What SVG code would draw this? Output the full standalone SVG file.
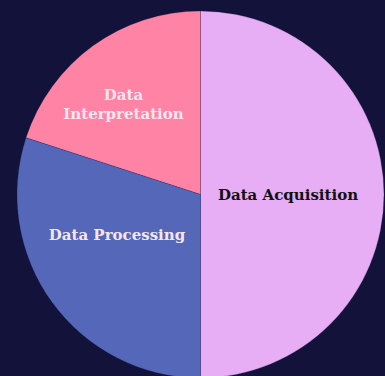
<svg xmlns="http://www.w3.org/2000/svg" width="385" height="376" viewBox="0 0 385 376">
  <style>
    .slice { stroke: #12123a; stroke-opacity: 0.2; stroke-width: 1; }
    .lbl { font-family: "DejaVu Serif", "Liberation Serif", serif; font-weight: bold; font-size: 15px; text-anchor: middle; }
    .light { fill: #f7e6f0; }
    .dark { fill: #111111; }
  </style>
  <rect width="385" height="376" fill="#12123a"/>
  <g id="slice-acquisition">
    <path class="slice" fill="#e7adf5" d="M200.5,194.5 L200.5,11 A183.5,183.5 0 0 1 200.5,378 Z"/>
    <text class="lbl dark" x="288" y="199.5">Data Acquisition</text>
  </g>
  <g id="slice-interpretation">
    <path class="slice" fill="#ff83a5" d="M200.5,194.5 L200.5,11 A183.5,183.5 0 0 0 26,137.8 Z"/>
    <text class="lbl light" x="123.5" y="99.5">Data</text>
    <text class="lbl light" x="123.5" y="118.5">Interpretation</text>
  </g>
  <g id="slice-processing">
    <path class="slice" fill="#5467b8" d="M200.5,194.5 L26,137.8 A183.5,183.5 0 0 0 200.5,378 Z"/>
    <text class="lbl light" x="117" y="239.5">Data Processing</text>
  </g>
</svg>
